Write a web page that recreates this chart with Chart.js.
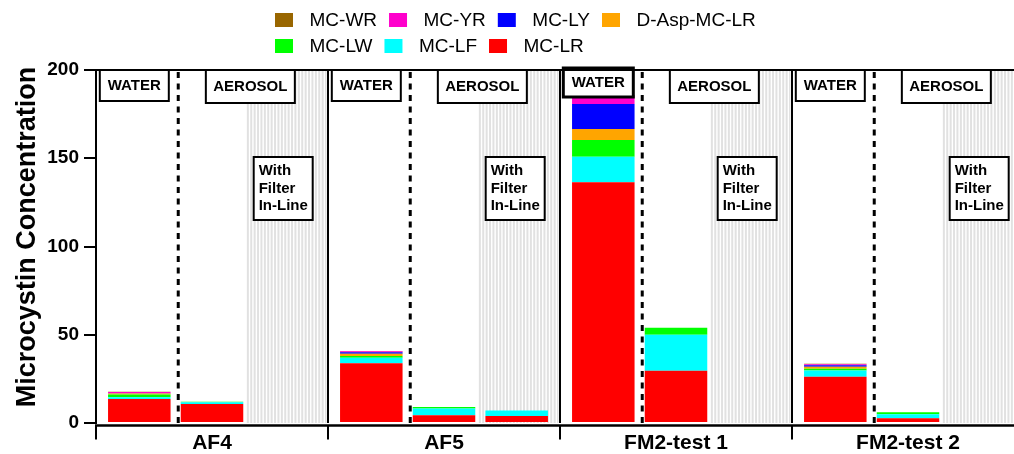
<!DOCTYPE html>
<html>
<head>
<meta charset="utf-8">
<script src="https://cdn.jsdelivr.net/npm/chart.js@4/dist/chart.umd.min.js"></script>
<style>
  html, body { margin: 0; padding: 0; background: #fff; overflow: hidden; }
  #wrap { width: 1024px; height: 454px; position: relative; }
</style>
</head>
<body>
<div id="wrap"><canvas id="chart"></canvas></div>
<script>
// Sampling sites (x categories) and y-axis ticks
const sites = ['AF4', 'AF5', 'FM2-test 1', 'FM2-test 2'];
const yTicks = [0, 50, 100, 150, 200];
const yTitle = 'Microcystin Concentration';

// Congeners, bottom of the stack first
const compounds = ['MC-LR', 'MC-LF', 'MC-LW', 'D-Asp-MC-LR', 'MC-LY', 'MC-YR', 'MC-WR'];
const compoundColors = ['#ff0000', '#00ffff', '#00ff00', '#ffa500', '#0000ff', '#ff00cc', '#996600'];

// Water samples, one value per site
const waterMCLR   = [13.6, 33.8, 136.4, 26.2];
const waterMCLF   = [1.0, 3.2, 14.5, 3.5];
const waterMCLW   = [1.5, 1.0, 9.4, 1.0];
const waterDAsp   = [0.6, 1.3, 6.3, 1.2];
const waterMCLY   = [0.2, 0.8, 14.1, 0.8];
const waterMCYR   = [0.7, 0.5, 4.2, 0.6];
const waterMCWR   = [0.1, 0.2, 0.8, 0.3];

// Aerosol samples
const aerosolMCLR = [10.8, 4.4, 29.6, 2.7];
const aerosolMCLF = [1.0, 3.8, 20.4, 2.3];
const aerosolMCLW = [0.2, 0.9, 4.0, 1.1];
const aerosolDAsp = [0, 0, 0, 0];
const aerosolMCLY = [0, 0, 0, 0];
const aerosolMCYR = [0, 0, 0, 0];
const aerosolMCWR = [0, 0, 0, 0];

// Aerosol samples with the filter in-line
const filterMCLR  = [0, 3.9, 0, 0];
const filterMCLF  = [0, 3.2, 0, 0];
const filterMCLW  = [0, 0, 0, 0];
const filterDAsp  = [0, 0, 0, 0];
const filterMCLY  = [0, 0, 0, 0];
const filterMCYR  = [0, 0, 0, 0];
const filterMCWR  = [0, 0, 0, 0];

const stackNames = ['water', 'aerosol', 'filter'];
const seriesByStack = {
  water:   [waterMCLR, waterMCLF, waterMCLW, waterDAsp, waterMCLY, waterMCYR, waterMCWR],
  aerosol: [aerosolMCLR, aerosolMCLF, aerosolMCLW, aerosolDAsp, aerosolMCLY, aerosolMCYR, aerosolMCWR],
  filter:  [filterMCLR, filterMCLF, filterMCLW, filterDAsp, filterMCLY, filterMCYR, filterMCWR]
};

const FONT = "'Liberation Sans', Arial, Helvetica, sans-serif";
Chart.defaults.font.family = FONT;
Chart.defaults.color = '#000';

const datasets = [];
stackNames.forEach(st => {
  compounds.forEach((name, k) => {
    datasets.push({
      label: name,
      data: seriesByStack[st][k],
      backgroundColor: compoundColors[k],
      borderWidth: 0,
      stack: st
    });
  });
});

const BAR_PCT = 0.86;
const nC = compounds.length;

function barOf(chart, stackIdx, i) {
  return chart.getDatasetMeta(stackIdx * nC).data[i];
}

function boxOutline(ctx, x, y, w, h, lw) {
  ctx.fillStyle = '#fff';
  ctx.fillRect(x, y, w, h);
  ctx.strokeStyle = '#000';
  ctx.lineWidth = lw;
  ctx.strokeRect(x, y, w, h);
}

// Panel decorations: hatched filter zone, dotted separator, labels, frame, axis
const panelDecor = {
  id: 'panelDecor',
  beforeDatasetsDraw(chart) {
    const ctx = chart.ctx, area = chart.chartArea, xs = chart.scales.x;
    const catW = xs.width / sites.length;
    ctx.save();
    sites.forEach((s, i) => {
      const f = barOf(chart, 2, i), a = barOf(chart, 1, i);
      const slotW = f.width / BAR_PCT;
      const left = f.x - slotW / 2 - 1.5;
      const right = xs.getPixelForValue(i) + catW / 2 - 1.5;
      ctx.fillStyle = '#e1e1e1';
      for (let x = left; x < right - 1; x += 3.4) {
        ctx.fillRect(x, area.top, Math.min(2, right - x), area.bottom - area.top);
      }
      // dotted divider between water and aerosol
      const dx = a.x - a.width / 2 - 2.5;
      ctx.strokeStyle = '#000';
      ctx.lineWidth = 3;
      ctx.setLineDash([6, 5.5]);
      ctx.beginPath();
      ctx.moveTo(dx, area.top + 2);
      ctx.lineTo(dx, area.bottom);
      ctx.stroke();
      ctx.setLineDash([]);
    });
    ctx.restore();
  },
  afterDatasetsDraw(chart) {
    const ctx = chart.ctx, area = chart.chartArea, xs = chart.scales.x;
    const catW = xs.width / sites.length;
    ctx.save();
    ctx.textBaseline = 'middle';
    sites.forEach((s, i) => {
      const w = barOf(chart, 0, i), a = barOf(chart, 1, i), f = barOf(chart, 2, i);
      ctx.font = 'bold 15px ' + FONT;
      // WATER
      const wcx = w.x - 5;
      if (i === 2) {
        boxOutline(ctx, wcx - 35, area.top - 2, 70, 29, 3);
      } else {
        boxOutline(ctx, wcx - 34.5, area.top, 69, 31, 2);
      }
      ctx.fillStyle = '#000';
      ctx.textAlign = 'center';
      ctx.fillText('WATER', wcx, area.top + (i === 2 ? 13 : 16));
      // AEROSOL
      const acx = (a.x + f.x) / 2 + 2;
      boxOutline(ctx, acx - 44.5, area.top, 89, 33, 2);
      ctx.fillStyle = '#000';
      ctx.fillText('AEROSOL', acx, area.top + 17);
      // With Filter In-Line
      const fl = f.x - 31;
      boxOutline(ctx, fl, 157, 59, 63, 2);
      ctx.fillStyle = '#000';
      ctx.textAlign = 'left';
      ctx.fillText('With', fl + 5, 171);
      ctx.fillText('Filter', fl + 5, 188.5);
      ctx.fillText('In-Line', fl + 5, 206);
    });
    // top frame
    ctx.strokeStyle = '#000';
    ctx.lineWidth = 2;
    ctx.beginPath();
    ctx.moveTo(area.left - 1, area.top);
    ctx.lineTo(area.right, area.top);
    ctx.stroke();
    // offset x axis with ticks at the panel boundaries
    const axY = area.bottom + 2.5;
    ctx.lineWidth = 2.5;
    ctx.beginPath();
    ctx.moveTo(area.left - 1, axY);
    ctx.lineTo(area.right, axY);
    ctx.stroke();
    ctx.lineWidth = 2;
    for (let k = 0; k <= sites.length; k++) {
      const bx = area.left + k * catW;
      ctx.beginPath();
      ctx.moveTo(bx, axY);
      ctx.lineTo(bx, axY + 14);
      ctx.stroke();
    }
    ctx.restore();
  },
  afterDraw(chart) {
    const ctx = chart.ctx;
    ctx.save();
    // y-axis title
    ctx.translate(28, 237);
    ctx.rotate(-Math.PI / 2);
    ctx.font = 'bold 27px ' + FONT;
    ctx.fillStyle = '#000';
    ctx.textAlign = 'center';
    ctx.textBaseline = 'middle';
    ctx.fillText(yTitle, 0, 0);
    ctx.restore();

    // legend: two left-aligned rows, top of stack first
    const order = compounds.map((c, k) => k).reverse();
    const rows = [order.slice(0, 4), order.slice(4)];
    const rowY = [20, 46];
    ctx.save();
    ctx.font = '19px ' + FONT;
    ctx.textBaseline = 'middle';
    ctx.textAlign = 'left';
    rows.forEach((row, r) => {
      let x = 275;
      row.forEach(k => {
        ctx.fillStyle = compoundColors[k];
        ctx.fillRect(x, rowY[r] - 7, 18, 14);
        ctx.fillStyle = '#000';
        ctx.fillText(compounds[k], x + 34.5, rowY[r] + 1);
        x += 34.5 + ctx.measureText(compounds[k]).width + 12;
      });
    });
    ctx.restore();
  }
};

new Chart(document.getElementById('chart'), {
  type: 'bar',
  data: { labels: sites, datasets },
  plugins: [panelDecor],
  options: {
    responsive: true,
    maintainAspectRatio: false,
    animation: false,
    events: [],
    layout: { padding: { top: 70, left: 0, right: 0, bottom: 0 } },
    datasets: { bar: { categoryPercentage: 0.94, barPercentage: BAR_PCT } },
    plugins: { legend: { display: false }, tooltip: { enabled: false } },
    scales: {
      x: {
        stacked: true,
        grid: { offset: true, color: '#000', lineWidth: 2, drawTicks: false },
        border: { display: false },
        ticks: { color: '#000', font: { size: 21, weight: 'bold' }, padding: 8, maxRotation: 0 },
        afterFit: s => { s.height = 31; }
      },
      y: {
        stacked: true,
        min: 0,
        max: 200,
        afterBuildTicks: s => { s.ticks = yTicks.map(v => ({ value: v })); },
        ticks: { color: '#000', font: { size: 19, weight: 'bold' }, padding: 5 },
        grid: { drawOnChartArea: false, color: '#000', lineWidth: 2, tickLength: 12 },
        border: { color: '#000', width: 2 },
        afterFit: s => { s.width = 96; }
      }
    }
  }
});
</script>
</body>
</html>
